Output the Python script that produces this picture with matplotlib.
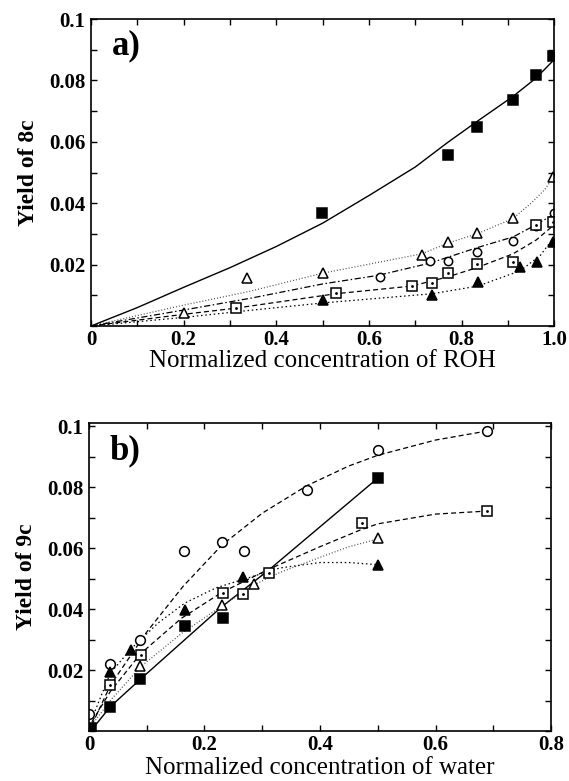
import numpy as np
import matplotlib
matplotlib.use("Agg")
import matplotlib.pyplot as plt

plt.rcParams["font.family"] = ["Liberation Serif", "DejaVu Serif"]

# ---- panel a: yield of 8c vs normalized ROH concentration ----
a_fsq_x = [0.499, 0.770, 0.833, 0.911, 0.961, 0.997]
a_fsq_y = [0.0369, 0.0558, 0.0648, 0.0737, 0.0818, 0.0880]
a_fsq_fit_x = [0, 0.1, 0.2, 0.3, 0.4, 0.5, 0.6, 0.7, 0.77, 0.833, 0.911, 0.961, 1.0]
a_fsq_fit_y = [0, 0.006, 0.0126, 0.019, 0.0259, 0.0335, 0.0425, 0.0518, 0.0598, 0.0666,
               0.0748, 0.0808, 0.0868]

a_otri_x = [0.200, 0.336, 0.501, 0.714, 0.770, 0.833, 0.911, 0.997]
a_otri_y = [0.0041, 0.0155, 0.0174, 0.0231, 0.0273, 0.0302, 0.0351, 0.0487]
a_otri_fit_x = [0, 0.2, 0.34, 0.5, 0.714, 0.77, 0.833, 0.911, 0.95, 0.98, 1.0]
a_otri_fit_y = [0, 0.0068, 0.0112, 0.0172, 0.0235, 0.027, 0.030, 0.035, 0.040, 0.0445, 0.049]

a_ocir_x = [0.624, 0.732, 0.770, 0.833, 0.911, 0.961, 1.0]
a_ocir_y = [0.0158, 0.0212, 0.0212, 0.0240, 0.0278, 0.0326, 0.0367]
a_ocir_fit_x = [0, 0.2, 0.35, 0.5, 0.62, 0.732, 0.833, 0.911, 0.961, 1.0]
a_ocir_fit_y = [0, 0.0052, 0.0092, 0.0137, 0.0165, 0.0205, 0.0255, 0.029, 0.033, 0.0365]

a_osq_x = [0.312, 0.528, 0.692, 0.736, 0.770, 0.833, 0.911, 0.961, 0.997]
a_osq_y = [0.0058, 0.0109, 0.0131, 0.0141, 0.0172, 0.0202, 0.0210, 0.0329, 0.0340]
a_osq_fit_x = [0, 0.2, 0.312, 0.528, 0.692, 0.77, 0.833, 0.911, 0.961, 1.0]
a_osq_fit_y = [0, 0.0038, 0.0058, 0.0105, 0.013, 0.016, 0.019, 0.0235, 0.028, 0.033]

a_ftri_x = [0.501, 0.736, 0.835, 0.927, 0.963, 0.997]
a_ftri_y = [0.0085, 0.0101, 0.0144, 0.0191, 0.0210, 0.0275]
a_ftri_fit_x = [0, 0.2, 0.35, 0.5, 0.736, 0.835, 0.927, 0.97, 1.0]
a_ftri_fit_y = [0, 0.0028, 0.0052, 0.0075, 0.0105, 0.013, 0.018, 0.023, 0.029]

# ---- panel b: yield of 9c vs normalized water concentration ----
b_fsq_x = [0.003, 0.037, 0.089, 0.166, 0.232, 0.500]
b_fsq_y = [0.0010, 0.0080, 0.0170, 0.0344, 0.0370, 0.0830]
b_fsq_fit_x = [0.003, 0.037, 0.089, 0.23, 0.311, 0.5]
b_fsq_fit_y = [0.0, 0.008, 0.017, 0.0408, 0.0528, 0.083]

b_ocir_x = [0.0, 0.037, 0.089, 0.165, 0.230, 0.268, 0.377, 0.500, 0.690]
b_ocir_y = [0.0056, 0.0220, 0.0300, 0.0590, 0.0620, 0.0590, 0.0792, 0.0923, 0.0985]
b_ocir_fit_x = [0.005, 0.037, 0.1, 0.163, 0.23, 0.3, 0.377, 0.45, 0.5, 0.6, 0.69]
b_ocir_fit_y = [0.002, 0.015, 0.0325, 0.0475, 0.061, 0.0715, 0.0805, 0.087, 0.0905, 0.0955, 0.0985]

b_osq_x = [0.037, 0.090, 0.232, 0.266, 0.311, 0.472, 0.690]
b_osq_y = [0.0151, 0.0249, 0.0454, 0.0451, 0.0520, 0.0683, 0.0722]
b_osq_fit_x = [0.005, 0.037, 0.09, 0.16, 0.23, 0.31, 0.4, 0.47, 0.5, 0.6, 0.69]
b_osq_fit_y = [0.003, 0.013, 0.0255, 0.037, 0.0455, 0.053, 0.0605, 0.066, 0.068, 0.0712, 0.0722]

b_otri_x = [0.089, 0.230, 0.286, 0.500]
b_otri_y = [0.0213, 0.0413, 0.0484, 0.0632]
b_otri_fit_x = [0.005, 0.037, 0.089, 0.16, 0.23, 0.286, 0.33, 0.4, 0.45, 0.5]
b_otri_fit_y = [0.002, 0.010, 0.021, 0.032, 0.041, 0.048, 0.052, 0.057, 0.0605, 0.063]

b_ftri_x = [0.037, 0.073, 0.166, 0.266, 0.500]
b_ftri_y = [0.0195, 0.0266, 0.0397, 0.0506, 0.0546]
b_ftri_fit_x = [0.005, 0.037, 0.073, 0.12, 0.166, 0.22, 0.266, 0.33, 0.4, 0.45, 0.5]
b_ftri_fit_y = [0.004, 0.019, 0.027, 0.0355, 0.042, 0.047, 0.0497, 0.0535, 0.0553, 0.0553, 0.0546]

ytick_vals = np.round(np.arange(0, 0.1001, 0.01), 2)
ytick_text = ["", "", "0.02", "", "0.04", "", "0.06", "", "0.08", "", "0.1"]

fig = plt.figure(figsize=(5.69, 7.81), dpi=100)
ax_a = fig.add_axes([0.160, 0.5826, 0.814, 0.393])
ax_b = fig.add_axes([0.1564, 0.064, 0.812, 0.394])

dotted = (0, (1.2, 2.2))
fine_dot = (0, (0.8, 1.6))
dashed = (0, (4, 2.5))
dashdot = (0, (5, 2, 1.2, 2))

mk = dict(color="black", linestyle="none", markeredgewidth=1.1)


def style_axes(ax, xmax, xlabels, ytop, ylabel, xlabel, tag, xpad):
    ax.set_xlim(0, xmax)
    ax.set_ylim(0, ytop)
    ax.set_xticks(np.round(np.arange(0, xmax + 1e-9, 0.1), 1))
    ax.set_xticklabels(xlabels)
    ax.set_yticks(ytick_vals)
    ax.set_yticklabels(ytick_text)
    ax.tick_params(direction="in", length=4, width=1.0, top=True, right=True,
                   labelsize=15, pad=4)
    ax.tick_params(axis="x", pad=3)
    for lab in ax.get_xticklabels() + ax.get_yticklabels():
        lab.set_fontweight("bold")
    for sp in ax.spines.values():
        sp.set_linewidth(1.2)
    ax.set_ylabel(ylabel, fontsize=17, fontweight="bold", labelpad=7)
    ax.set_xlabel(xlabel, fontsize=18, labelpad=xpad)
    ax.text(0.045, 0.965, tag, transform=ax.transAxes, fontsize=25,
            fontweight="bold", va="top", ha="left")


# panel a curves and markers
ax_a.plot(a_fsq_fit_x, a_fsq_fit_y, color="black", lw=1.0)
ax_a.plot(a_otri_fit_x, a_otri_fit_y, color="0.3", lw=0.9, linestyle=fine_dot)
ax_a.plot(a_ocir_fit_x, a_ocir_fit_y, color="black", lw=0.9, linestyle=dashdot)
ax_a.plot(a_osq_fit_x, a_osq_fit_y, color="black", lw=0.9, linestyle=dashed)
ax_a.plot(a_ftri_fit_x, a_ftri_fit_y, color="black", lw=0.9, linestyle=dotted)

ax_a.plot(a_fsq_x, a_fsq_y, marker="s", ms=7, markerfacecolor="black", **mk)
ax_a.plot(a_otri_x, a_otri_y, marker="^", ms=7, markerfacecolor="white", **mk)
ax_a.plot(a_ocir_x, a_ocir_y, marker="o", ms=6, markerfacecolor="white", **mk)
ax_a.plot(a_osq_x, a_osq_y, marker="s", ms=7, markerfacecolor="white", **mk)
ax_a.plot(a_osq_x, a_osq_y, marker=".", ms=2, color="black", linestyle="none")
ax_a.plot(a_ftri_x, a_ftri_y, marker="^", ms=7, markerfacecolor="black", **mk)

style_axes(ax_a, 1.0, ["0", "", "0.2", "", "0.4", "", "0.6", "", "0.8", "", "1.0"],
           0.1, "Yield of 8c", "Normalized concentration of ROH", "a)", 0)

# panel b curves and markers
ax_b.plot(b_fsq_fit_x, b_fsq_fit_y, color="black", lw=1.0)
ax_b.plot(b_ocir_fit_x, b_ocir_fit_y, color="black", lw=0.9, linestyle=dashed)
ax_b.plot(b_osq_fit_x, b_osq_fit_y, color="black", lw=0.9, linestyle=dashed)
ax_b.plot(b_otri_fit_x, b_otri_fit_y, color="0.3", lw=0.9, linestyle=fine_dot)
ax_b.plot(b_ftri_fit_x, b_ftri_fit_y, color="black", lw=0.9, linestyle=dotted)

ax_b.plot(b_fsq_x, b_fsq_y, marker="s", ms=7, markerfacecolor="black", **mk)
ax_b.plot(b_ocir_x, b_ocir_y, marker="o", ms=7, markerfacecolor="white", **mk)
ax_b.plot(b_osq_x, b_osq_y, marker="s", ms=7, markerfacecolor="white", **mk)
ax_b.plot(b_osq_x, b_osq_y, marker=".", ms=2, color="black", linestyle="none")
ax_b.plot(b_otri_x, b_otri_y, marker="^", ms=7, markerfacecolor="white", **mk)
ax_b.plot(b_ftri_x, b_ftri_y, marker="^", ms=7, markerfacecolor="black", **mk)

style_axes(ax_b, 0.8, ["0", "", "0.2", "", "0.4", "", "0.6", "", "0.8"],
           0.101, "Yield of 9c", "Normalized concentration of water", "b)", 1)

fig.savefig("out.png", dpi=100)
